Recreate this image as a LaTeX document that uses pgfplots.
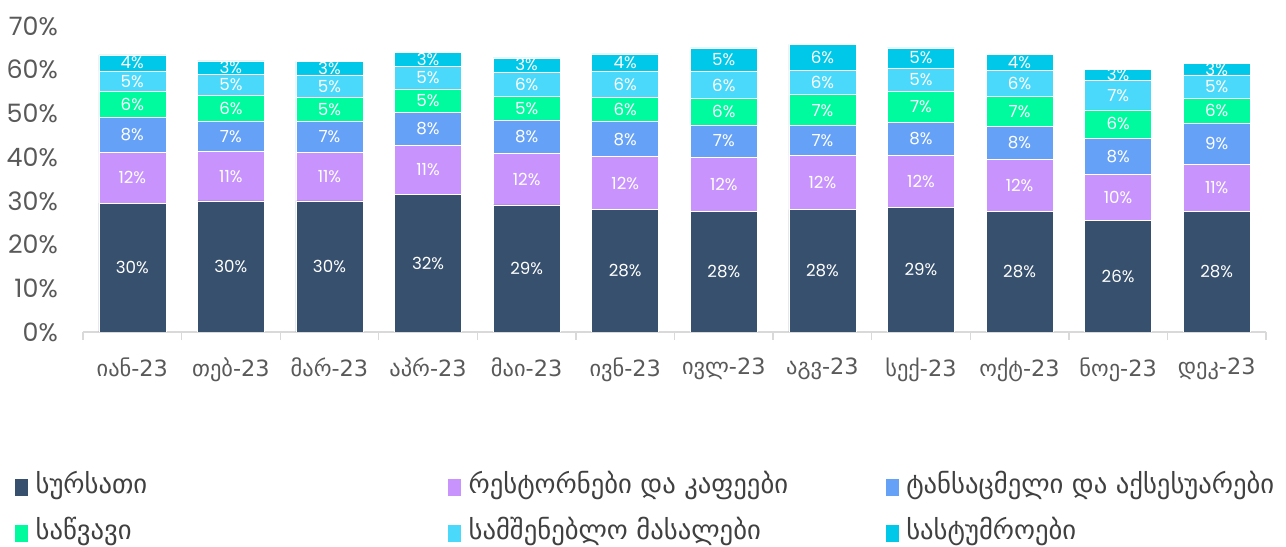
\documentclass[border=0pt]{standalone}
\usepackage{fontspec}
\setmainfont{Poppins}
\newfontfamily\geo{DejaVu Sans}
\usepackage{pgfplots}
\usepackage{pgfplotstable}
\pgfplotsset{compat=1.18}
\definecolor{c1}{HTML}{37506D}
\definecolor{c2}{HTML}{C893FD}
\definecolor{c3}{HTML}{66A1F8}
\definecolor{c4}{HTML}{00FB9F}
\definecolor{c5}{HTML}{4AD9FB}
\definecolor{c6}{HTML}{00C8E8}
\definecolor{tickgray}{HTML}{595959}
\definecolor{leggray}{HTML}{404040}
\definecolor{axgray}{HTML}{D9D9D9}

\pgfplotstableread{
x s1 s2 s3 s4 s5 s6 l1 l2 l3 l4 l5 l6
0 29.5 11.6 8.0 5.9 4.7 3.7 30 12 8 6 5 4
1 30.0 11.3 6.9 5.9 4.9 3.0 30 11 7 6 5 3
2 30.0 11.1 7.1 5.4 5.2 3.1 30 11 7 5 5 3
3 31.5 11.2 7.6 5.3 5.2 3.2 32 11 8 5 5 3
4 29.1 11.8 7.6 5.4 5.6 3.2 29 12 8 5 6 3
5 28.0 12.1 8.0 5.6 5.9 4.0 28 12 8 6 6 4
6 27.6 12.4 7.4 6.0 6.2 5.4 28 12 7 6 6 5
7 28.0 12.4 6.8 7.1 5.6 5.9 28 12 7 7 6 6
8 28.5 11.9 7.6 7.1 5.3 4.6 29 12 8 7 5 5
9 27.6 11.8 7.7 6.8 5.9 3.7 28 12 8 7 6 4
10 25.6 10.4 8.4 6.4 6.7 2.6 26 10 8 6 7 3
11 27.6 10.8 9.4 5.7 5.3 2.7 28 11 9 6 5 3
}\data

\pgfplotsset{
  segment/.style={
    fill=#1, draw=white, line width=0.4pt,
  },
}
\newcommand{\legbox}[1]{\makebox[311pt][l]{\hspace{3.5pt}#1}}
\newcommand{\legboxm}[1]{\makebox[314.5pt][l]{\hspace{3.5pt}#1}}

\begin{document}
\begin{tikzpicture}
\begin{axis}[
  name=ax,
  scale only axis,
  width=887.25pt, height=229.5pt,
  ybar stacked, bar width=50.25pt,
  xmin=-0.5, xmax=11.5, ymin=0, ymax=70,
  axis lines*=left,
  y axis line style={draw=none},
  x axis line style={draw=axgray, line width=1pt},
  xtick={0,...,11},
  xticklabels={იან-23,თებ-23,მარ-23,აპრ-23,მაი-23,ივნ-23,ივლ-23,აგვ-23,სექ-23,ოქტ-23,ნოე-23,დეკ-23},
  minor xtick={-0.5,0.5,...,11.5},
  major tick length=0pt,
  minor tick length=6pt,
  tick align=outside,
  minor tick style={draw=axgray, line width=1pt},
  ytick={0,10,...,70},
  yticklabels={0\%,10\%,20\%,30\%,40\%,50\%,60\%,70\%},
  ytick style={draw=none},
  yticklabel style={font=\fontsize{19}{21}\selectfont, text=tickgray, inner sep=0pt, xshift=-18.75pt},
  xticklabel style={font=\geo\fontsize{16.8}{20}\selectfont, text=tickgray, inner sep=0pt, yshift=-19pt},
  point meta=explicit symbolic,
  nodes near coords={\pgfplotspointmeta\%},
  every node near coord/.append style={font=\fontsize{12.5}{14}\selectfont, text=white, anchor=center},
  legend columns=3,
  legend cell align=left,
  legend style={draw=none, fill=none, at={(axis description cs:0,0)}, anchor=north west,
    xshift=-51pt, yshift=-105pt, inner sep=0pt,
    font=\geo\fontsize{20}{23}\selectfont, text=leggray,
    row sep=11.5pt, column sep=0pt,
    nodes={inner sep=2pt, text height=14pt, text depth=5pt}},
  legend image code/.code={\fill[#1,draw=none] (0pt,-6.4pt) rectangle (9.75pt,6.4pt);},
]
\addplot[segment=c1] table[x=x,y=s1,meta=l1] {\data};
\addplot[segment=c2] table[x=x,y=s2,meta=l2] {\data};
\addplot[segment=c3] table[x=x,y=s3,meta=l3] {\data};
\addplot[segment=c4] table[x=x,y=s4,meta=l4] {\data};
\addplot[segment=c5] table[x=x,y=s5,meta=l5] {\data};
\addplot[segment=c6] table[x=x,y=s6,meta=l6] {\data};
\legend{\legbox{სურსათი},\legboxm{რესტორნები და კაფეები},\legbox{ტანსაცმელი და აქსესუარები},\legbox{საწვავი},\legboxm{სამშენებლო მასალები},\legbox{სასტუმროები}}
\end{axis}
\pgfresetboundingbox
\path ([shift={(-62.25pt,-161.25pt)}]ax.south west) rectangle ([shift={(15pt,19.5pt)}]ax.north east);
\end{tikzpicture}
\end{document}
